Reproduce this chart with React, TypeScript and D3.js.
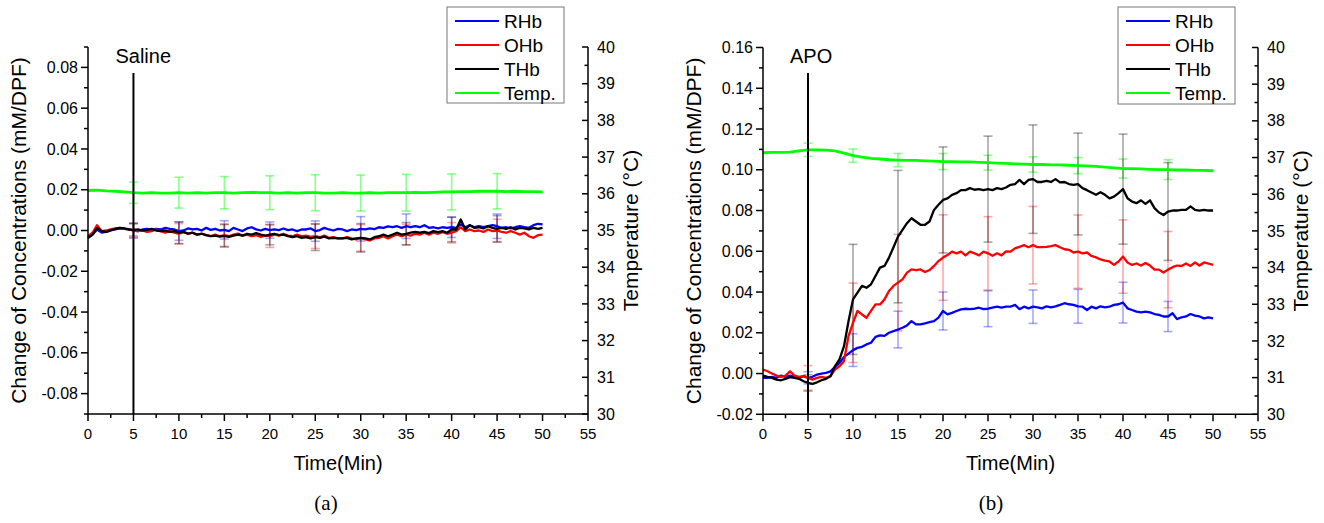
import React from 'react';
import * as d3 from 'd3';

const FONT = 'Arial, "Liberation Sans", sans-serif';

// sample grids (min)
const hbTimes = d3.range(0, 50.25, 0.5);
const tempTimes = d3.range(0, 50.5, 1);
const errTimes = [5, 10, 15, 20, 25, 30, 35, 40, 45];

// (a) Saline -- Hb values in units of 1e-3 mM/DPF, temperature in °C
const salineRHb = [
  -3.6, -2.0, 0.5, -1.0, -0.7, 0, 0.5, 1.0, 0.8, 0.5,
  0, -0.3, 0.5, 0.8, 0.2, 0.8, 0.5, 1.3, 0.8, 0.5,
  -0.3, 0, 1.0, 0.5, 0.8, 0, 1.3, 0.3, 0.8, 0,
  0.3, -0.3, 1.3, 0.5, -0.3, 1.0, 1.6, 0.5, 0, 0.8,
  0.2, 0.5, 0.2, 1.0, 0.2, 0.5, -0.3, 0.5, 0.5, 1.0,
  -0.3, 0.2, 1.3, 0.5, 0, 0.8, 0.5, -0.3, 0.5, 0.2,
  0.8, 0.5, 1.0, 0.7, 1.6, 1.3, 2.0, 1.6, 2.1, 1.3,
  2.1, 1.6, 2.1, 1.6, 2.6, 1.3, 1.6, 1.0, 1.6, 1.3,
  1.6, 1.3, 3.0, 1.6, 2.6, 1.6, 2.1, 1.6, 2.1, 2.6,
  2.1, 1.3, 1.6, 1.0, 1.6, 2.1, 1.6, 1.3, 2.6, 3.3,
  3.0,
];
const salineOHb = [
  -2.8, -1.1, 2.6, -0.3, 0, 0.5, 1.0, 1.3, 0.8, 0.5,
  0, -0.3, 0, -0.7, -0.3, 0.5, -0.3, -1.1, -0.3, -1.1,
  -1.6, -0.8, -1.6, -1.1, -2.0, -1.5, -2.3, -2.8, -2.0, -2.8,
  -2.3, -2.8, -2.0, -1.5, -2.5, -2.0, -2.8, -2.3, -3.1, -2.5,
  -2.8, -2.0, -2.5, -1.6, -2.5, -2.8, -2.0, -2.8, -2.5, -3.1,
  -2.8, -3.3, -2.5, -3.6, -3.3, -3.9, -3.9, -3.3, -3.9, -4.4,
  -3.6, -4.4, -4.9, -3.9, -3.6, -2.8, -3.9, -2.8, -2.0, -2.8,
  -2.0, -2.5, -1.6, -2.0, -1.1, -2.0, -1.1, -1.6, -0.8, -1.6,
  -1.1, -0.3, 1.5, -0.3, 0.5, -0.3, 0, -0.7, 0.5, -0.3,
  0, -0.7, -1.1, -0.3, -1.1, -2.0, -1.1, -2.8, -3.6, -2.3,
  -2.0,
];
const salineTHb = [
  -3.6, -2.0, 1.3, -0.3, -0.7, 0.2, 0.8, 1.3, 1.0, 0.5,
  0.3, 0.5, 0, 0.3, 0.8, 0, -0.3, 0, -0.7, -0.3,
  -1.1, -0.7, -1.5, -1.1, -2.0, -1.6, -2.3, -2.8, -2.5, -3.0,
  -2.6, -3.1, -2.5, -2.0, -2.5, -1.6, -2.0, -1.3, -2.0, -2.5,
  -2.0, -1.6, -2.3, -2.0, -2.8, -3.3, -2.8, -3.6, -3.3, -3.9,
  -3.3, -3.6, -3.0, -3.9, -3.6, -3.9, -3.9, -3.6, -4.4, -3.9,
  -3.6, -3.9, -4.4, -3.3, -2.8, -2.0, -2.8, -2.0, -1.1, -2.0,
  -1.6, -1.1, -0.7, -1.1, -0.7, -1.3, -0.3, -0.8, -0.3, -1.1,
  0.5, 0.5, 5.4, 0.5, 2.6, 1.3, 1.6, 1.0, 2.1, 1.3,
  0.8, 1.3, 0.8, 1.6, 0.5, 1.3, 1.0, 0.5, 1.3, 0.8,
  1.3,
];
const salineTemp = [
  36.09, 36.10, 36.08, 36.07, 36.05, 36.03, 36.02, 36.03, 36.02, 36.02,
  36.03, 36.02, 36.03, 36.02, 36.03, 36.03, 36.02, 36.03, 36.04, 36.03,
  36.03, 36.02, 36.03, 36.02, 36.03, 36.03, 36.02, 36.02, 36.03, 36.02,
  36.02, 36.03, 36.02, 36.03, 36.03, 36.03, 36.04, 36.03, 36.04, 36.05,
  36.05, 36.06, 36.06, 36.07, 36.07, 36.07, 36.06, 36.07, 36.06, 36.06,
  36.05,
];
const salineErrRHb = [3.7, 4.5, 4.5, 4, 5, 6, 6, 5, 6];
const salineErrOHb = [3.5, 5, 5.5, 5.5, 6, 6.5, 5, 5, 5.5];
const salineErrTHb = [3, 5.3, 5.5, 5, 6.5, 7, 5.5, 6, 6.5];
const salineErrTemp = [0.29, 0.42, 0.44, 0.46, 0.49, 0.49, 0.5, 0.49, 0.48];

// (b) APO
const apoRHb = [
  -2.1, -2.1, -1.6, -2.1, -1.0, -1.6, -1.0, -1.6, -2.1, -1.3,
  -2.1, -1.6, -0.5, 0, 0.3, 1.1, 3.3, 5.2, 8.2, 9.8,
  11.5, 12.6, 13.1, 14.3, 15.1, 18.0, 18.7, 18.5, 20.0, 20.8,
  21.6, 22.5, 23.6, 25.7, 24.1, 24.1, 24.6, 25.2, 25.7, 27.4,
  30.7, 29.0, 29.8, 30.7, 31.5, 31.8, 31.6, 31.8, 32.3, 31.6,
  31.8, 32.3, 32.8, 32.3, 32.8, 32.8, 33.7, 31.6, 32.8, 32.0,
  32.8, 32.5, 32.0, 33.0, 32.5, 33.0, 33.7, 34.5, 34.0, 33.7,
  33.0, 32.8, 31.2, 32.8, 32.0, 33.0, 32.5, 32.8, 33.7, 34.0,
  34.8, 32.0, 31.2, 30.4, 30.0, 30.4, 30.0, 29.2, 28.8, 28.0,
  28.0, 29.6, 26.7, 27.6, 28.0, 29.2, 28.4, 28.0, 27.1, 27.6,
  27.1,
];
const apoOHb = [
  2.0, 1.1, 0, -1.0, -1.6, -1.0, 1.1, -1.0, -1.6, -1.3,
  -2.1, -3.0, -2.1, -1.6, -2.1, -1.3, 2.0, 3.6, 6.1, 18.4,
  24.9, 30.7, 29.0, 27.4, 30.7, 33.9, 33.9, 36.4, 40.5, 43.0,
  44.6, 46.2, 49.5, 51.1, 50.8, 51.1, 49.8, 50.8, 52.8, 55.2,
  56.9, 58.2, 59.8, 59.0, 59.8, 58.0, 59.8, 59.0, 58.0, 59.8,
  59.0, 57.8, 59.0, 58.0, 60.0, 59.8, 61.4, 62.2, 63.0, 62.0,
  63.0, 62.0, 62.0, 62.2, 62.5, 63.0, 62.0, 61.0, 60.7, 59.4,
  59.8, 59.0, 59.4, 57.7, 57.0, 56.0, 55.4, 55.0, 53.3, 55.0,
  57.4, 54.5, 53.3, 54.0, 53.0, 54.3, 53.0, 51.0, 51.0, 49.6,
  51.0, 52.2, 53.0, 52.8, 54.0, 52.8, 54.5, 53.0, 54.5, 54.0,
  53.3,
];
const apoTHb = [
  -1.0, -1.6, -2.1, -3.0, -3.3, -2.6, -1.8, -2.1, -2.6, -3.8,
  -4.6, -5.1, -4.3, -3.3, -2.6, -1.3, 3.6, 6.9, 13.4, 25.7,
  36.4, 39.7, 43.0, 42.1, 43.8, 47.9, 52.0, 52.8, 56.9, 62.0,
  67.2, 70.5, 73.8, 76.2, 74.6, 73.0, 73.0, 74.6, 80.3, 82.8,
  85.2, 86.0, 87.7, 88.5, 90.0, 90.0, 91.0, 90.2, 90.5, 90.0,
  90.5, 90.0, 91.0, 90.5, 91.3, 92.6, 93.0, 95.0, 93.0, 95.0,
  95.4, 94.0, 94.0, 94.5, 94.0, 95.4, 93.8, 94.0, 93.0, 92.6,
  93.0, 91.0, 90.0, 88.8, 87.7, 89.0, 87.7, 86.0, 86.8, 88.5,
  90.5, 86.0, 84.4, 83.6, 85.0, 83.3, 85.0, 81.2, 79.0, 77.8,
  79.5, 80.0, 80.0, 80.3, 80.3, 82.0, 80.3, 80.0, 80.3, 80.0,
  80.0,
];
const apoTemp = [
  37.13, 37.14, 37.14, 37.15, 37.18, 37.21, 37.21, 37.20, 37.18, 37.12,
  37.05, 37.01, 36.98, 36.96, 36.94, 36.93, 36.92, 36.92, 36.91, 36.90,
  36.89, 36.89, 36.88, 36.88, 36.87, 36.86, 36.85, 36.84, 36.83, 36.82,
  36.81, 36.81, 36.80, 36.80, 36.79, 36.78, 36.77, 36.76, 36.74, 36.72,
  36.70, 36.70, 36.69, 36.68, 36.67, 36.67, 36.66, 36.66, 36.65, 36.65,
  36.64,
];
const apoErrRHb = [3, 8, 9, 9.3, 8.8, 8.2, 8.3, 10, 7.4];
const apoErrOHb = [6, 19.5, 23.7, 21, 18, 19, 18, 18, 18.7];
const apoErrTHb = [4, 27, 32.5, 26, 26, 26.6, 25, 27, 24];
const apoErrTemp = [0.18, 0.18, 0.18, 0.22, 0.2, 0.21, 0.22, 0.26, 0.27];

const seriesNames = ['RHb', 'OHb', 'THb', 'Temp.'];
const seriesColors = ['#0000ff', '#ff0000', '#000000', '#00ff00'];

const panels = [
  {
    x0: 88, x1: 588, yTop: 47, yBot: 414,
    hbDomain: [-90, 90], hbMajor: d3.range(-80, 81, 20), hbMinor: d3.range(-90, 91, 20),
    hb: [salineRHb, salineOHb, salineTHb], temp: salineTemp,
    err: [salineErrRHb, salineErrOHb, salineErrTHb], errTemp: salineErrTemp,
    marker: 'Saline', caption: '(a)', captionX: 326,
    legend: { x: 447, y: 7, w: 117, h: 96 },
  },
  {
    x0: 763, x1: 1258, yTop: 47.5, yBot: 414.3,
    hbDomain: [-20, 160], hbMajor: d3.range(-20, 161, 20), hbMinor: d3.range(-10, 151, 20),
    hb: [apoRHb, apoOHb, apoTHb], temp: apoTemp,
    err: [apoErrRHb, apoErrOHb, apoErrTHb], errTemp: apoErrTemp,
    marker: 'APO', caption: '(b)', captionX: 991,
    legend: { x: 1118, y: 7, w: 117, h: 97 },
  },
];

function Panel({ p }: { p: any }) {
  const x = d3.scaleLinear().domain([0, 55]).range([p.x0, p.x1]);
  const y = d3.scaleLinear().domain(p.hbDomain).range([p.yBot, p.yTop]);
  const yT = d3.scaleLinear().domain([30, 40]).range([p.yBot, p.yTop]);
  const hbLine = d3.line<number>().x((_, i) => x(hbTimes[i])).y((v) => y(v));
  const tLine = d3.line<number>().x((_, i) => x(tempTimes[i])).y((v) => yT(v));
  const midX = (p.x0 + p.x1) / 2;
  const midY = (p.yTop + p.yBot) / 2;

  const errBar = (cx: number, yHi: number, yLo: number, color: string, op: number, key: string) => (
    <g key={key} stroke={color} strokeOpacity={op} strokeWidth={1.6}>
      <line x1={cx} x2={cx} y1={yHi} y2={yLo} />
      <line x1={cx - 4.5} x2={cx + 4.5} y1={yHi} y2={yHi} />
      <line x1={cx - 4.5} x2={cx + 4.5} y1={yLo} y2={yLo} />
    </g>
  );

  return (
    <g fontFamily={FONT}>
      {/* error bars */}
      {errTimes.map((t, k) => {
        const v = p.temp[t];
        return errBar(x(t), yT(v + p.errTemp[k]), yT(v - p.errTemp[k]), seriesColors[3], 0.45, 'et' + k);
      })}
      {p.hb.map((s: number[], si: number) =>
        errTimes.map((t, k) => {
          const v = s[t * 2];
          const e = p.err[si][k];
          return errBar(x(t), y(v + e), y(v - e), seriesColors[si], 0.35, 'e' + si + '-' + k);
        })
      )}
      {/* lines */}
      <path d={tLine(p.temp) || ''} fill="none" stroke={seriesColors[3]} strokeWidth={2.8} />
      {p.hb.map((s: number[], si: number) => (
        <path key={si} d={hbLine(s) || ''} fill="none" stroke={seriesColors[si]} strokeWidth={2.3} strokeLinejoin="round" />
      ))}

      {/* injection marker */}
      <line x1={x(5)} x2={x(5)} y1={73} y2={p.yBot} stroke="#000" strokeWidth={2} />
      <text x={x(5) - 18} y={63} fontSize={20}>{p.marker}</text>

      {/* axes */}
      <g stroke="#000" strokeWidth={1.5} fill="none">
        <line x1={p.x0} x2={p.x0} y1={p.yTop} y2={p.yBot} />
        <line x1={p.x1} x2={p.x1} y1={p.yTop} y2={p.yBot} />
        <line x1={p.x0} x2={p.x1} y1={p.yBot} y2={p.yBot} />
        {d3.range(0, 56, 5).map((t) => <line key={'xm' + t} x1={x(t)} x2={x(t)} y1={p.yBot} y2={p.yBot + 7} />)}
        {d3.range(2.5, 55, 5).map((t) => <line key={'xn' + t} x1={x(t)} x2={x(t)} y1={p.yBot} y2={p.yBot + 4} />)}
        {p.hbMajor.map((v: number) => <line key={'ym' + v} x1={p.x0 - 7} x2={p.x0} y1={y(v)} y2={y(v)} />)}
        {p.hbMinor.map((v: number) => <line key={'yn' + v} x1={p.x0 - 4} x2={p.x0} y1={y(v)} y2={y(v)} />)}
        {d3.range(30, 41, 1).map((v) => <line key={'tm' + v} x1={p.x1 - 6} x2={p.x1} y1={yT(v)} y2={yT(v)} />)}
        {d3.range(30.5, 40, 1).map((v) => <line key={'tn' + v} x1={p.x1 - 3.5} x2={p.x1} y1={yT(v)} y2={yT(v)} />)}
      </g>
      <g fill="#000">
        {d3.range(0, 56, 5).map((t) => (
          <text key={'xl' + t} x={x(t)} y={p.yBot + 25} textAnchor="middle" fontSize={15}>{t}</text>
        ))}
        {p.hbMajor.map((v: number) => (
          <text key={'yl' + v} x={p.x0 - 10} y={y(v)} dy="0.35em" textAnchor="end" fontSize={16}>{(v / 1000).toFixed(2)}</text>
        ))}
        {d3.range(30, 41, 1).map((v) => (
          <text key={'tl' + v} x={p.x1 + 9} y={yT(v)} dy="0.35em" fontSize={16}>{v}</text>
        ))}
      </g>

      {/* titles */}
      <text x={midX} y={470} fontSize={20} textAnchor="middle">Time(Min)</text>
      <text transform={`translate(${p.x0 - 62},${midY}) rotate(-90)`} fontSize={21} textAnchor="middle">
        Change of Concentrations (mM/DPF)
      </text>
      <text transform={`translate(${p.x1 + 50},${midY}) rotate(-90)`} fontSize={21} textAnchor="middle">
        Temperature (°C)
      </text>
      <text x={p.captionX} y={510} fontSize={21} textAnchor="middle" fontFamily='"Liberation Serif", "Times New Roman", serif'>
        {p.caption}
      </text>

      {/* legend */}
      <g>
        <rect x={p.legend.x} y={p.legend.y} width={p.legend.w} height={p.legend.h} fill="#fff" stroke="#777" strokeWidth={1} />
        {seriesNames.map((n, i) => {
          const ly = p.legend.y + 14 + i * 24;
          return (
            <g key={n}>
              <line x1={p.legend.x + 8} x2={p.legend.x + 52} y1={ly} y2={ly} stroke={seriesColors[i]} strokeWidth={2} />
              <text x={p.legend.x + 57} y={ly} dy="0.36em" fontSize={19}>{n}</text>
            </g>
          );
        })}
      </g>
    </g>
  );
}

export default function App() {
  return (
    <svg width={1324} height={523} style={{ position: 'absolute', left: 0, top: 0, background: '#fff' }}>
      <rect width={1324} height={523} fill="#fff" />
      {panels.map((p, i) => <Panel key={i} p={p} />)}
    </svg>
  );
}
